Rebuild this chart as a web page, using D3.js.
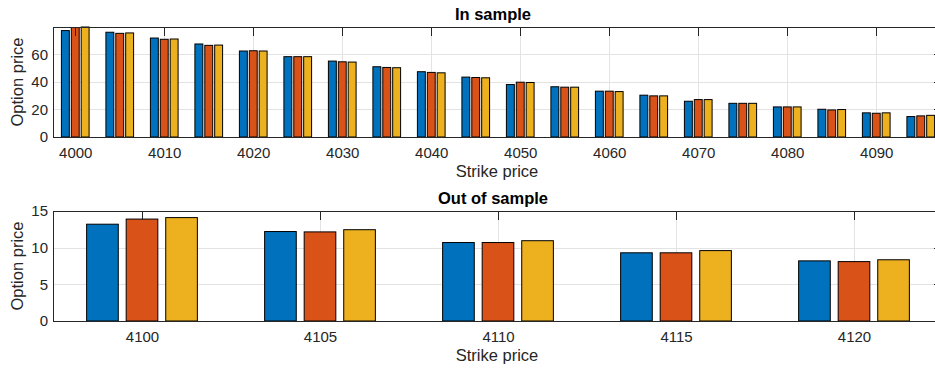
<!DOCTYPE html>
<html>
<head>
<meta charset="utf-8">
<script src="https://cdn.jsdelivr.net/npm/d3@7"></script>
<style>
  body { margin: 0; background: #fff; overflow: hidden; }
  svg { display: block; font-family: "Liberation Sans", Arial, sans-serif; }
  .grid line { stroke: #e3e3e3; stroke-width: 1; }
  .tick text { fill: #262626; font-size: 15px; }
</style>
</head>
<body>
<div id="chart"></div>
<script>
// In sample strikes and prices (3 models)
var inStrikes = [4000, 4005, 4010, 4015, 4020, 4025, 4030, 4035, 4040, 4045,
                 4050, 4055, 4060, 4065, 4070, 4075, 4080, 4085, 4090, 4095];
var inSeries1 = [77.1, 75.9, 71.7, 67.4, 62.3, 58.2, 55.0, 50.9, 47.3, 43.4,
                 38.0, 36.4, 33.2, 30.3, 25.9, 24.4, 21.8, 20.1, 17.5, 14.8];
var inSeries2 = [79.3, 75.1, 70.8, 66.4, 62.5, 58.2, 54.5, 50.4, 46.8, 43.1,
                 39.7, 36.1, 33.2, 29.8, 27.1, 24.4, 21.8, 19.6, 17.2, 15.3];
var inSeries3 = [79.7, 75.4, 71.0, 66.6, 62.3, 58.2, 54.3, 50.2, 46.5, 42.9,
                 39.5, 36.1, 32.9, 29.8, 27.1, 24.4, 21.8, 19.9, 17.5, 15.7];
var inXTicks = [4000, 4010, 4020, 4030, 4040, 4050, 4060, 4070, 4080, 4090];
var inYTicks = [0, 20, 40, 60];

// Out of sample
var outStrikes = [4100, 4105, 4110, 4115, 4120];
var outSeries1 = [13.2, 12.2, 10.7, 9.3, 8.2];
var outSeries2 = [13.9, 12.15, 10.7, 9.3, 8.1];
var outSeries3 = [14.1, 12.45, 10.95, 9.6, 8.35];
var outXTicks = [4100, 4105, 4110, 4115, 4120];
var outYTicks = [0, 5, 10, 15];

var colors = ["#0072BD", "#D95319", "#EDB120"];

var W = 935, H = 369;
var svg = d3.select("#chart").append("svg").attr("width", W).attr("height", H);

function drawPanel(opt) {
	var left = 53, right = 943;
	var x = d3.scaleLinear().domain(opt.xDomain).range([left, right]);
	var y = d3.scaleLinear().domain(opt.yDomain).range([opt.bottom, opt.top]);
	var g = svg.append("g");

	// grid
	var grid = g.append("g").attr("class", "grid");
	grid.selectAll(".gx").data(opt.xTicks).enter().append("line")
		.attr("x1", function(d) { return Math.round(x(d)) + 0.5; })
		.attr("x2", function(d) { return Math.round(x(d)) + 0.5; })
		.attr("y1", opt.top).attr("y2", opt.bottom);
	grid.selectAll(".gy").data(opt.yTicks).enter().append("line")
		.attr("y1", function(d) { return Math.round(y(d)) + 0.5; })
		.attr("y2", function(d) { return Math.round(y(d)) + 0.5; })
		.attr("x1", left).attr("x2", right);

	// bars
	var step = opt.spacing * (2 / 3) / 3;   // slot per bar
	var bw = step * 0.8;
	opt.series.forEach(function(vals, si) {
		g.append("g").selectAll("rect")
			.data(vals.map(function(v, i) { return [opt.strikes[i], v]; }))
			.enter().append("rect")
			.attr("x", function(d) { return x(d[0] + (si - 1) * step - bw / 2); })
			.attr("width", function(d) { return x(d[0] + bw / 2) - x(d[0] - bw / 2); })
			.attr("y", function(d) { return y(d[1]); })
			.attr("height", function(d) { return y(0) - y(d[1]); })
			.attr("fill", colors[si])
			.attr("stroke", "#000")
			.attr("stroke-width", 1);
	});

	// axes
	var xAxis = d3.axisBottom(x).tickValues(opt.xTicks).tickSize(0).tickPadding(10)
		.tickFormat(d3.format("d"));
	g.append("g").attr("transform", "translate(0," + opt.bottom + ")").call(xAxis)
		.call(function(s) { s.select(".domain").remove(); });
	var yAxis = d3.axisLeft(y).tickValues(opt.yTicks).tickSize(0).tickPadding(5);
	g.append("g").attr("transform", "translate(" + left + ",0)").call(yAxis)
		.call(function(s) { s.select(".domain").remove(); });

	// inner ticks on top and right, box
	g.append("g").selectAll("line").data(opt.xTicks).enter().append("line")
		.attr("x1", function(d) { return Math.round(x(d)) + 0.5; })
		.attr("x2", function(d) { return Math.round(x(d)) + 0.5; })
		.attr("y1", opt.top).attr("y2", opt.top + 9)
		.attr("stroke", "#262626");
	g.append("g").selectAll("line").data(opt.yTicks).enter().append("line")
		.attr("y1", function(d) { return Math.round(y(d)) + 0.5; })
		.attr("y2", function(d) { return Math.round(y(d)) + 0.5; })
		.attr("x1", right - 9).attr("x2", right)
		.attr("stroke", "#262626");
	g.append("rect")
		.attr("x", left + 0.5).attr("y", opt.top + 0.5)
		.attr("width", right - left).attr("height", opt.bottom - opt.top)
		.attr("fill", "none").attr("stroke", "#262626").attr("stroke-width", 1);

	// labels
	svg.append("text").attr("x", 493).attr("y", opt.top - 7)
		.attr("text-anchor", "middle").attr("font-weight", "bold")
		.attr("font-size", 16.5).attr("fill", "#000").text(opt.title);
	svg.append("text").attr("x", 497).attr("y", opt.bottom + 40)
		.attr("text-anchor", "middle").attr("font-size", 16.5)
		.attr("fill", "#262626").text("Strike price");
	svg.append("text")
		.attr("transform", "translate(23," + ((opt.top + opt.bottom) / 2) + ") rotate(-90)")
		.attr("text-anchor", "middle").attr("font-size", 16.5)
		.attr("fill", "#262626").text("Option price");
}

drawPanel({
	title: "In sample", top: 27, bottom: 137,
	xDomain: [3997.5, 4097.5], yDomain: [0, 79.7], spacing: 5,
	strikes: inStrikes, series: [inSeries1, inSeries2, inSeries3],
	xTicks: inXTicks, yTicks: inYTicks
});
drawPanel({
	title: "Out of sample", top: 211, bottom: 321,
	xDomain: [4097.5, 4122.5], yDomain: [0, 15], spacing: 5,
	strikes: outStrikes, series: [outSeries1, outSeries2, outSeries3],
	xTicks: outXTicks, yTicks: outYTicks
});
</script>
</body>
</html>
